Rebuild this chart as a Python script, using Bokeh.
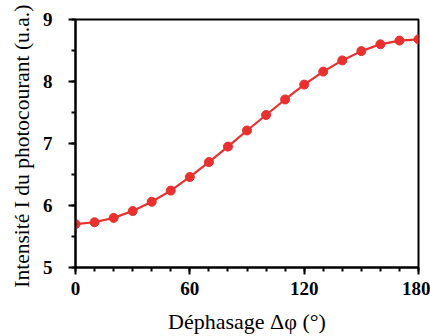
from bokeh.plotting import figure
from bokeh.embed import file_html
from bokeh.resources import INLINE
from bokeh.models import FixedTicker, Range1d

phase = [0, 10, 20, 30, 40, 50, 60, 70, 80, 90, 100, 110, 120, 130, 140, 150, 160, 170, 180]
intensity = [5.70, 5.73, 5.80, 5.91, 6.06, 6.24, 6.46, 6.70, 6.95, 7.21, 7.46, 7.71, 7.95, 8.16, 8.34, 8.49, 8.60, 8.66, 8.68]
x_ticks = [0, 60, 120, 180]
y_ticks = [5, 6, 7, 8, 9]

red = "#e8302f"

p = figure(width=430, height=336, output_backend="svg", toolbar_location=None,
           x_range=Range1d(0, 180), y_range=Range1d(5, 9),
           min_border_left=75, min_border_right=12, min_border_top=19, min_border_bottom=68)
p.grid.visible = False
p.outline_line_color = "black"
p.outline_line_width = 2
p.background_fill_color = "white"
p.border_fill_color = "white"

p.line(phase, intensity, line_color=red, line_width=2.2)
p.scatter(phase, intensity, size=9, fill_color=red, line_color=red)

for ax in (p.xaxis[0], p.yaxis[0]):
    ax.axis_line_width = 2
    ax.major_tick_line_width = 2
    ax.minor_tick_line_width = 2
    ax.major_tick_in = 0
    ax.major_tick_out = 7
    ax.minor_tick_in = 0
    ax.minor_tick_out = 4
    ax.major_label_text_font = "Liberation Serif"
    ax.major_label_text_font_style = "bold"
    ax.major_label_text_font_size = "19px"
    ax.major_label_text_color = "black"
    ax.axis_label_text_font = "Liberation Serif"
    ax.axis_label_text_font_style = "normal"
    ax.axis_label_text_font_size = "22px"
    ax.axis_label_text_color = "black"

p.yaxis.axis_label_text_font_size = "21.5px"
p.xaxis.ticker = FixedTicker(ticks=x_ticks, minor_ticks=list(range(0, 181, 10)))
p.yaxis.ticker = FixedTicker(ticks=y_ticks, minor_ticks=[5 + 0.5 * i for i in range(9)])
p.xaxis.axis_label = "Déphasage Δφ (°)"
p.yaxis.axis_label = "Intensité I du  photocourant (u.a.)"
p.xaxis.major_label_standoff = 7
p.yaxis.major_label_standoff = 16
p.xaxis.axis_label_standoff = 11
p.yaxis.axis_label_standoff = 6

open("out.html", "w").write(file_html(p, INLINE))
